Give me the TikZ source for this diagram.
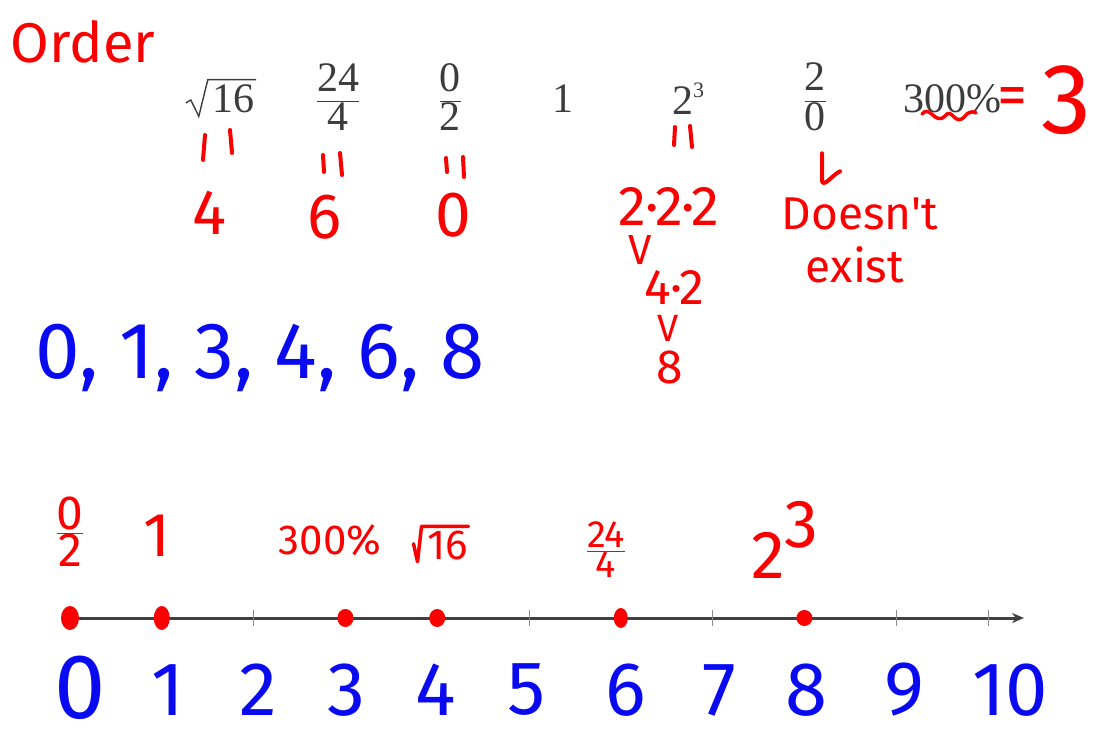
\documentclass[tikz,border=0pt]{standalone}
\usepackage{fontspec}
\setmainfont{Liberation Serif}
\newfontfamily\handfont{Fira Sans}
\usetikzlibrary{arrows.meta, calc}

\definecolor{penred}{RGB}{250,0,0}
\definecolor{penblue}{RGB}{10,10,240}
\definecolor{printgray}{RGB}{60,60,60}

\begin{document}
\begin{tikzpicture}[
    x=1pt, y=-1pt,
    % estilos
    printed/.style={text=printgray, font=\fontsize{42}{44}\selectfont, inner sep=0pt},
    redhand/.style={text=penred, inner sep=0pt},
    bluehand/.style={text=penblue, inner sep=0pt, font=\handfont\fontsize{76}{78}\selectfont},
    redstroke/.style={draw=penred, line width=4pt, line cap=round, line join=round},
    numline/.style={draw=black!75, line width=3pt},
    ticksty/.style={draw=black!45, line width=1pt}
]
\useasboundingbox[fill=white] (0,0) rectangle (1096,736);

% ==========================
% LINHA IMPRESSA
% ==========================
\node[redhand, font=\handfont\fontsize{56}{58}\selectfont] (titulo) at (83,42) {Order};

\node[printed] (p_sqrt) at (233,99) {16};
\draw[printgray, line width=1.4pt] ($(p_sqrt.west)+(-26,4)$) -- ++(5,-3)
    -- ($(p_sqrt.south west)+(-13,3)$) -- ($(p_sqrt.north west)+(-4,-5)$) -- ($(p_sqrt.north east)+(2,-5)$);
\node[printed] (p_frac) at (338,97) {$\displaystyle\frac{\mbox{24}}{\mbox{4}}$};
\node[printed] (p_zero) at (450,97) {$\displaystyle\frac{\mbox{0}}{\mbox{2}}$};
\node[printed] (p_one)  at (563,99) {1};
\node[printed] (p_pow)  at (688,99) {2\raisebox{0.4em}{\fontsize{22}{24}\selectfont 3}};
\node[printed] (p_div)  at (815,97) {$\displaystyle\frac{\mbox{2}}{\mbox{0}}$};
\node[printed] (p_pct)  at (952,99) {300\%};

\node[redhand, font=\handfont\fontsize{60}{60}\selectfont] (r_eq) at (1012,102) {=};
\node[redhand, font=\handfont\fontsize{100}{100}\selectfont] (r_three) at (1066,100) {3};

% ==========================
% ANOTACOES VERMELHAS
% ==========================
\def\eqmark#1#2#3#4#5#6#7#8{%
  \draw[redstroke] (#1,#2) -- (#3,#4);
  \draw[redstroke] (#5,#6) -- (#7,#8);}
\eqmark{205}{135}{203}{160}{230}{130}{232}{153}
\eqmark{323}{155}{324}{172}{340}{153}{342}{175}
\eqmark{446}{158}{447}{172}{463}{157}{464}{177}
\eqmark{675}{127}{674}{145}{690}{126}{692}{147}

\node[redhand, font=\handfont\fontsize{64}{64}\selectfont] (r_four) at (210,213) {4};
\node[redhand, font=\handfont\fontsize{64}{64}\selectfont] (r_six)  at (325,217) {6};
\node[redhand, font=\handfont\fontsize{64}{64}\selectfont] (r_zero) at (453,215) {0};

\node[redhand, font=\handfont\fontsize{56}{56}\selectfont] (r_ppp) at (669,206) {2·2·2};
\node[redhand, font=\handfont\fontsize{42}{42}\selectfont] (r_v1)  at (640,250) {V};
\node[redhand, font=\handfont\fontsize{50}{50}\selectfont] (r_pp)  at (674,288) {4·2};
\node[redhand, font=\handfont\fontsize{38}{38}\selectfont] (r_v2)  at (668,328) {V};
\node[redhand, font=\handfont\fontsize{48}{48}\selectfont] (r_ocho) at (670,367) {8};

\draw[redstroke] (p_div.south) ++(7,22) coordinate (seta_ini) -- ++(0,28)
    .. controls +(2,6) and +(-8,4) .. ++(18,-10);
\node[redhand, font=\handfont\fontsize{46}{46}\selectfont] (r_nao) at (860,214) {Doesn't};
\node[redhand, font=\handfont\fontsize{46}{46}\selectfont] (r_existe) at (855,265) {exist};

% rabisco debaixo de 300%
\draw[redstroke, line width=3.5pt] (922,114) .. controls (930,104) and (935,126) .. (945,116)
    .. controls (952,106) and (955,128) .. (965,116) .. controls (970,110) and (975,112) .. (976,113);

% ==========================
% LISTA AZUL
% ==========================
\node[bluehand, font=\handfont\fontsize{80}{80}\selectfont] (lista) at (260,358) {0, 1, 3, 4, 6, 8};

% ==========================
% RETA NUMERICA
% ==========================
\foreach \i in {0,...,10} { \coordinate (t\i) at (70+91.8*\i, 618); }
\draw[numline, -{Stealth[length=12pt, width=10pt]}] ($(t0)+(-6,0)$) -- ($(t10)+(36,0)$);
\foreach \i in {1,...,10} { \draw[ticksty] ($(t\i)+(0,-8)$) -- ($(t\i)+(0,8)$); }

% pontos
\foreach \i/\rx/\ry in {0/9/12, 1/8/12, 3/8/9, 4/8/9, 6/7/10, 8/8/8} {
  \fill[penred] (t\i) ellipse (\rx pt and \ry pt);
}

% numeros azuis
\node[bluehand, font=\handfont\fontsize{92}{92}\selectfont] (n0) at (80,688) {0};
\foreach \n/\x in {1/168, 2/258, 3/346, 4/436, 5/527, 6/626, 7/719, 8/806, 9/904, 10/1010} {
  \node[bluehand] (n\n) at (\x,690) {\n};
}

% rotulos vermelhos acima da reta
\node[redhand, font=\handfont\fontsize{48}{48}\selectfont] (l_zero) at (70,532) {$\frac{\mbox{0}}{\mbox{2}}$};
\node[redhand, font=\handfont\fontsize{62}{62}\selectfont] (l_one)  at (157,536) {1};
\node[redhand, font=\handfont\fontsize{42}{42}\selectfont] (l_pct)  at (330,540) {300\%};
\node[redhand, font=\handfont\fontsize{42}{42}\selectfont] (l_sqrt) at (448,545) {16};
\draw[redstroke, line width=3.5pt] ($(l_sqrt.south west)+(-14,-16)$) -- ($(l_sqrt.south west)+(-10,2)$)
    -- ($(l_sqrt.north west)+(-6,-4)$) -- ($(l_sqrt.north east)+(0,-4)$);
\node[redhand, font=\handfont\fontsize{38}{38}\selectfont] (l_frac) at (606,550) {$\frac{\mbox{24}}{\mbox{4}}$};
\node[redhand, font=\handfont\fontsize{68}{68}\selectfont] (l_pow)  at (785,540) {2\raisebox{0.45em}{3}};

\end{tikzpicture}
\end{document}
